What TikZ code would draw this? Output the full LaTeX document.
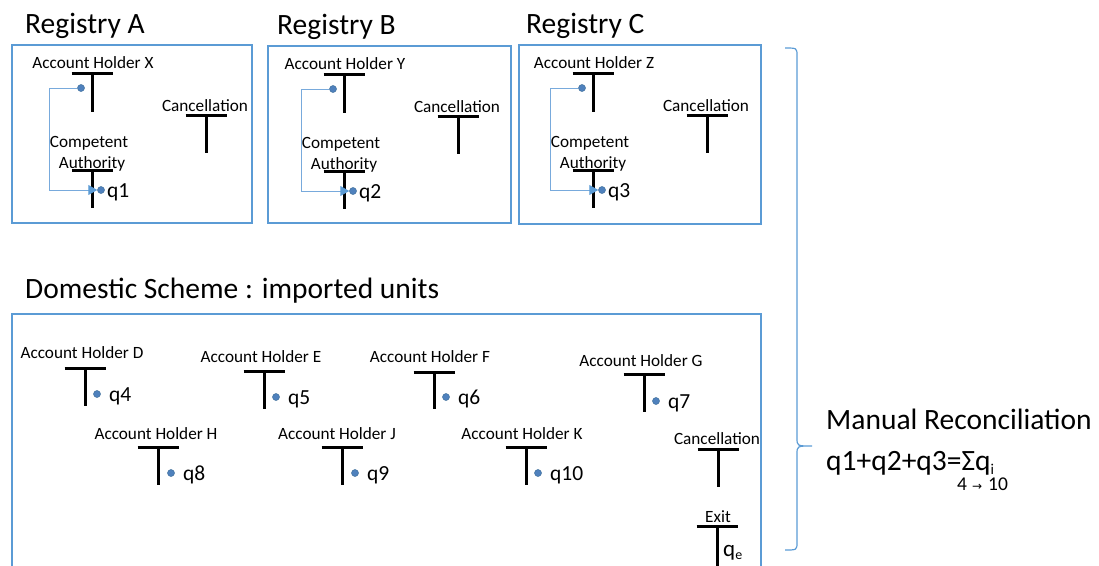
\documentclass[tikz,border=0pt]{standalone}
\usepackage{fontspec}
\setmainfont{Carlito}
\newfontfamily\dejavu{DejaVu Sans}
\usetikzlibrary{arrows.meta}
\definecolor{boxblue}{RGB}{91,155,213}
\definecolor{lineblue}{RGB}{120,170,220}
\definecolor{dotblue}{RGB}{79,129,189}
\definecolor{dotedge}{RGB}{65,113,156}
\tikzset{
  regbox/.style={draw=boxblue, line width=1.5pt},
  teebar/.style={line width=3pt, black},
  dot/.style={circle, fill=dotblue, draw=dotedge, line width=0.5pt, inner sep=0pt, minimum size=7pt},
  lbl/.style={font=\fontsize{17.2}{19}\selectfont, inner sep=0pt, anchor=base},
  title/.style={font=\fontsize{29.5}{31}\selectfont, inner sep=0pt, anchor=base west},
  qlbl/.style={font=\fontsize{21.5}{23}\selectfont, inner sep=0pt, anchor=base west},
  conn/.style={draw=lineblue, line width=1pt},
  tipstyle/.style={-{Triangle[length=9pt,width=10pt,fill=boxblue,color=boxblue]}},
  bracestyle/.style={draw=boxblue, line width=1.2pt}
}
\newcommand\teeshape[3]{\draw[teebar] ({#1-20.5},#2) -- ({#1+20.5},#2) ({#1},#2) -- ({#1},#3);}
\begin{document}
\begin{tikzpicture}[x=1pt,y=-1pt]
\useasboundingbox (0,0) rectangle (1099,565);
% registry boxes
\draw[regbox] (12,45) rectangle (252,223);
\draw[regbox] (268,46) rectangle (511,223);
\draw[regbox] (519,45) rectangle (761,224);
\foreach \dx/\dy/\L/\H/\q in {0/0/A/X/1, 252/1/B/Y/2, 501/0/C/Z/3}{
  \begin{scope}[shift={(\dx,\dy)}]
    \node[title] (reg\L) at (25,33) {Registry \L};
    \node[lbl] (ah\L) at (93,68.5) {Account Holder \H};
    \teeshape{92}{73}{112}
    \node[lbl] (comp\L) at (89,147.5) {Competent};
    \node[lbl] (auth\L) at (92,168.5) {Authority};
    \teeshape{92}{170}{208}
    \node[lbl] (canc\L) at (205,111.5) {Cancellation};
    \teeshape{206}{115}{153}
    \node[dot] (top\L) at (81,88) {};
    \node[dot] (bot\L) at (101,190) {};
    \node[qlbl] (q\L) at (107,197) {q\q};
    \coordinate (turn\L) at (49,88);
    \draw[conn, tipstyle] (top\L.west) -- (turn\L) |- (bot\L.west);
  \end{scope}
}
% domestic scheme
\node[title] (dom) at (25,298) {Domestic Scheme : imported units};
\draw[regbox] (12,314) rectangle (761,575);
\foreach \N/\tx/\ty/\bx/\by/\ey/\px/\py/\q in {
  D/82/353/85/368/406/97/394/4,
  E/261/357/264/371/409/276/397/5,
  F/430/357/434/372/409/446/397/6,
  G/641/361/644/374/412/656/401/7,
  H/156/434/158/447/485/171/473/8,
  J/337/434/342/447/485/355/473/9,
  K/522/434/526/447/485/538/473/10}{
  \node[lbl] (ah\N) at (\tx,\ty+5.5) {Account Holder \N};
  \teeshape{\bx}{\by}{\ey}
  \node[dot] (d\N) at (\px,\py) {};
  \node[qlbl] (q\N) at (\px+12,\py+7) {q\q};
}
\node[lbl] (cancD) at (717,444.5) {Cancellation};
\teeshape{718}{449}{487}
\node[lbl] (exit) at (718,522.5) {Exit};
\teeshape{717}{526}{570}
\node[qlbl, font=\fontsize{23}{24}\selectfont] (qe) at (723,556) {q\raisebox{-3pt}{\fontsize{14}{14}\selectfont e}};
% brace
\coordinate (brTop) at (785,48);
\coordinate (brTip) at (812,446);
\coordinate (brBot) at (785,550);
\draw[bracestyle] (brTop) .. controls (797,48) .. (797,56) -- (797,438)
  .. controls (797,446) .. (brTip) .. controls (797,446) .. (797,454) -- (797,542)
  .. controls (797,550) .. (brBot);
% reconciliation
\node[title] (manual) at (826,429) {Manual Reconciliation};
\node[title] (formula) at (826,470) {q1+q2+q3=Σq\raisebox{-4pt}{\fontsize{15}{15}\selectfont i}};
\node[inner sep=0pt, anchor=base west, font=\fontsize{19.5}{20}\selectfont] (range) at (957,490) {4\hspace{5pt}{\dejavu\fontsize{12}{12}\selectfont →}\hspace{6pt}10};
\end{tikzpicture}
\end{document}
